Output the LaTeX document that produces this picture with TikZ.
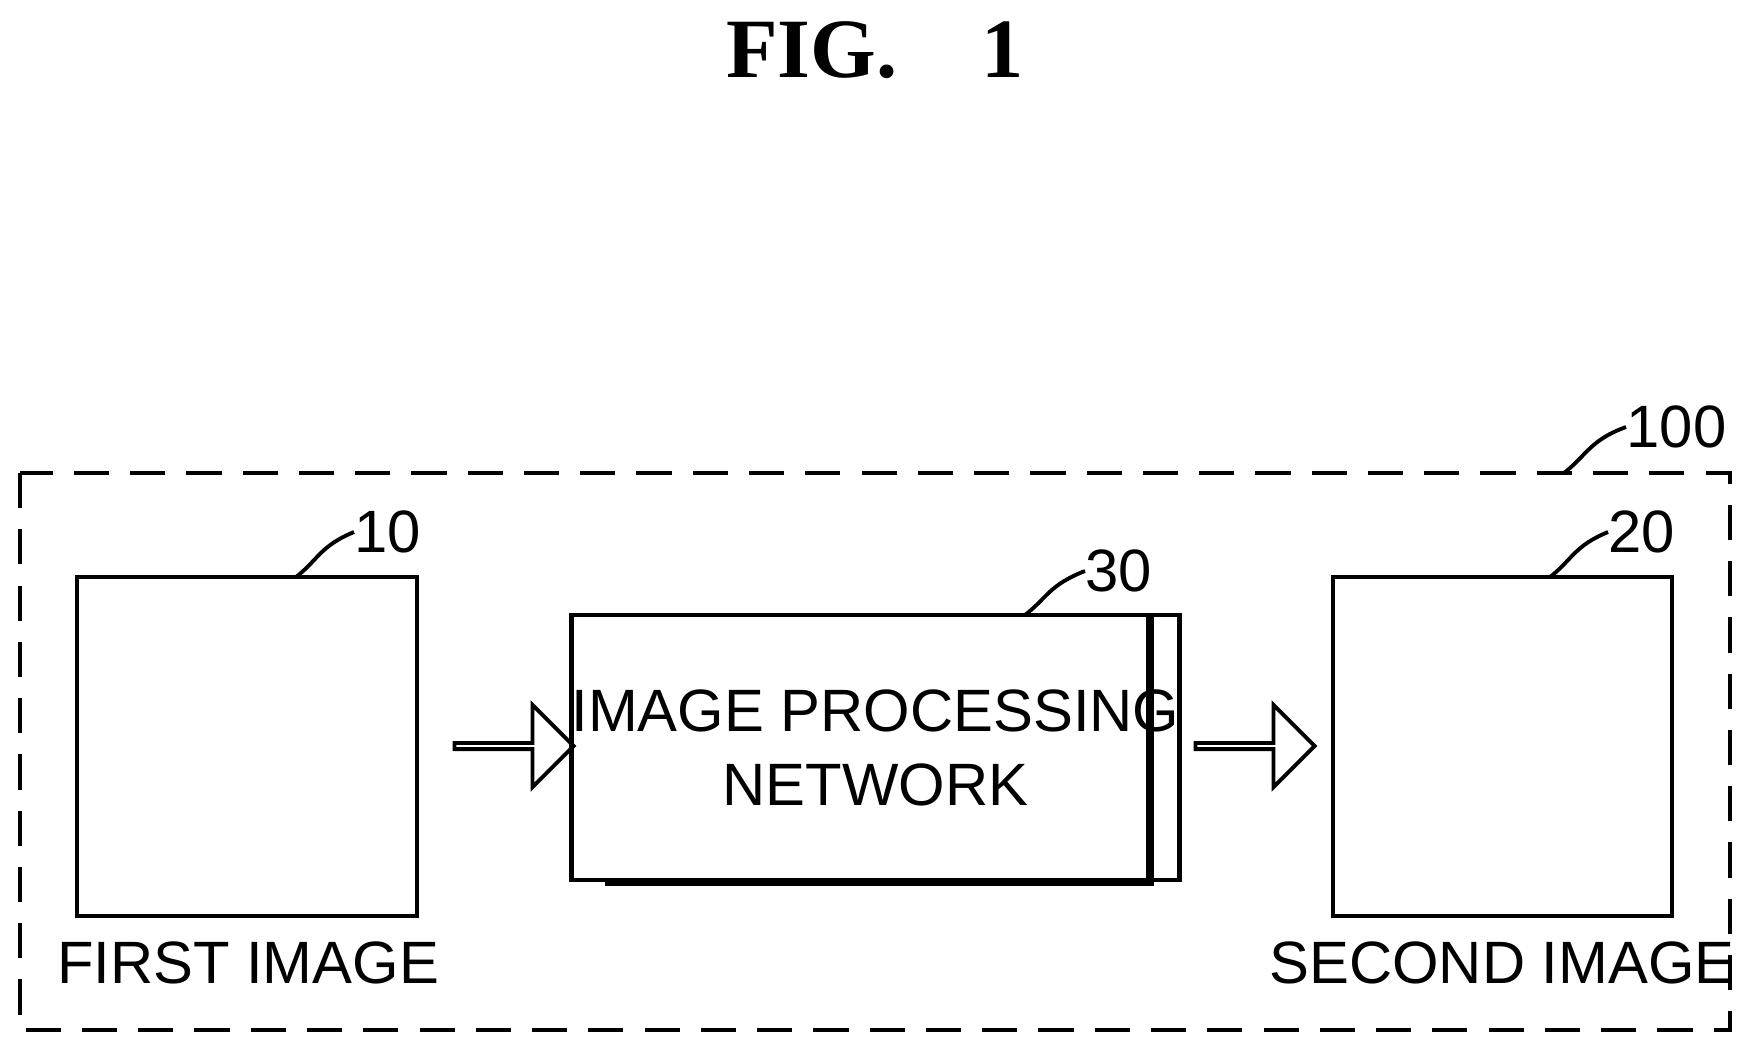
\documentclass[tikz,border=0pt]{standalone}
\usepackage{fontspec}
\setmainfont{Liberation Serif}
\setsansfont{Liberation Sans}
\usetikzlibrary{positioning,shapes.arrows}

\tikzset{
  blk/.style={draw,line width=1.3pt,inner sep=0pt},
  lbl/.style={font=\sffamily\fontsize{17}{20}\selectfont,inner sep=0pt},
  refno/.style={font=\sffamily\fontsize{17}{20}\selectfont,inner sep=0pt,anchor=west},
  lead/.style={line width=1.1pt},
  fat/.style={single arrow,draw,line width=1.1pt,minimum height=1.19cm,
    single arrow head extend=0.24cm,minimum width=0.82cm,inner sep=0pt,
    single arrow tip angle=90}
}

\begin{document}
\begin{tikzpicture}[x=0.01cm,y=-0.01cm]
	\useasboundingbox (0,0) rectangle (1750,1053);
	\node[font=\bfseries\fontsize{24}{28}\selectfont] (fig) at (875,50) {FIG.\quad 1};
	% outer system
	\draw[line width=1pt,dash pattern=on 10pt off 6pt] (20,473) rectangle (1730,1030);
	\coordinate (sys) at (1564,473);
	% images and network
	\node[blk,minimum width=3.40cm,minimum height=3.39cm] (img1) at (247,746.5) {};
	\node[blk,minimum width=3.39cm,minimum height=3.39cm] (img2) at (1502.5,746.5) {};
	\draw[line width=2.4pt] (605,882) -- (1150,882) -- (1150,617);
	\node[blk,minimum width=5.45cm,minimum height=2.65cm,align=center,
	      font=\sffamily\fontsize{17}{21}\selectfont] (net) at (875.5,747.5)
	      {IMAGE PROCESSING\\NETWORK};
	\node[lbl] (cap1) at (248,963) {FIRST IMAGE};
	\node[lbl] (cap2) at (1502,963) {SECOND IMAGE};
	% arrows
	\node[fat] (arr1) at (512.5,746) {};
	\node[fat] (arr2) at (1253.5,746) {};
	% reference numerals
	\node[refno] (n10) at (354,532) {10};
	\node[refno] (n20) at (1608,532) {20};
	\node[refno] (n30) at (1085,571) {30};
	\node[refno] (n100) at (1626,427) {100};
	\draw[lead] (296,577) .. controls (318,560) and (320,546) .. (n10.west);
	\draw[lead] (1550,577) .. controls (1572,560) and (1574,546) .. (n20.west);
	\draw[lead] (1025,615) .. controls (1047,598) and (1049,585) .. (n30.west);
	\draw[lead] (sys) .. controls (1586,456) and (1590,440) .. (n100.west);
\end{tikzpicture}
\end{document}
